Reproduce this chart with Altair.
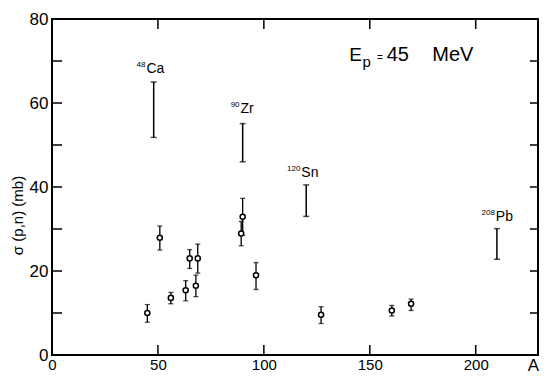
import altair as alt
import pandas as pd

# Open-circle data points (A, sigma, lower, upper)
pt_A = [45.0, 50.9, 56.1, 63.1, 65.0, 67.9, 68.8, 89.3, 90.0, 96.3, 127.0, 160.4, 169.5]
pt_s = [10.0, 27.9, 13.6, 15.4, 23.0, 16.5, 23.0, 28.9, 32.9, 19.0, 9.6, 10.6, 12.2]
pt_lo = [7.8, 25.0, 12.2, 12.9, 20.6, 13.9, 19.5, 26.0, 28.5, 15.6, 7.5, 9.3, 10.6]
pt_hi = [12.0, 30.7, 14.9, 17.7, 25.1, 19.0, 26.4, 31.8, 37.3, 22.0, 11.5, 11.8, 13.3]

# Labelled nuclei (error bars only)
nuc_A = [48, 90, 120, 210]
nuc_lo = [51.8, 46.0, 33.0, 22.8]
nuc_hi = [65.0, 55.1, 40.5, 30.1]
nuc_mass = ["48", "90", "120", "208"]
nuc_name = ["Ca", "Zr", "Sn", "Pb"]
nuc_lab_A = [44.6, 89.0, 117.7, 209.5]
nuc_lab_s = [67.1, 57.6, 42.4, 31.8]

# Axis ticks
x_labels = [0, 50, 100, 150, 200]
y_labels = [0, 20, 40, 60, 80]
x_ticks = [50, 100, 150, 200]
y_ticks = [10, 20, 30, 40, 50, 60, 70]

FONT = "Liberation Sans"
W, H = 486, 336

pts = pd.DataFrame({"A": pt_A, "s": pt_s, "lo": pt_lo, "hi": pt_hi})
nuc = pd.DataFrame({"A": nuc_A, "lo": nuc_lo, "hi": nuc_hi})
labs = pd.DataFrame({"A": nuc_lab_A, "s": nuc_lab_s, "mass": nuc_mass, "name": nuc_name})
xt = pd.DataFrame({"A": x_ticks})
yt = pd.DataFrame({"s": y_ticks})

xscale = alt.Scale(domain=[0, 229.4], nice=False, zero=False)
yscale = alt.Scale(domain=[0, 80], nice=False, zero=False)
xaxis = alt.Axis(values=x_labels, ticks=False, tickSize=0, domain=False, grid=False,
                 labelFontSize=15, labelFont=FONT, labelColor="black", labelPadding=2,
                 labelFlush=False, title="A", titleX=481, titleY=15, titleAlign="center",
                 titleBaseline="alphabetic", titleFontSize=17, titleFont=FONT,
                 titleFontWeight="normal", titleColor="black")
yaxis = alt.Axis(values=y_labels, ticks=False, tickSize=0, domain=False, grid=False,
                 labelFontSize=17, labelFont=FONT, labelColor="black", labelPadding=4,
                 title="σ (p,n) (mb)", titleX=-35, titleY=196, titleAngle=270,
                 titleAlign="center", titleBaseline="middle", titleFontSize=15,
                 titleFont=FONT, titleFontWeight="normal", titleColor="black")


def X(f="A"):
    return alt.X(f"{f}:Q", scale=xscale, axis=xaxis)


def Y(f="s"):
    return alt.Y(f"{f}:Q", scale=yscale, axis=yaxis)


layers = []
# inward ticks
layers.append(alt.Chart(yt).mark_rule(color="black", strokeWidth=1.5).encode(
    y=Y("s"), x=alt.value(0), x2=alt.value(10)))
layers.append(alt.Chart(yt).mark_rule(color="black", strokeWidth=1.5).encode(
    y=Y("s"), x=alt.value(W - 8), x2=alt.value(W)))
layers.append(alt.Chart(xt).mark_rule(color="black", strokeWidth=1.5).encode(
    x=X("A"), y=alt.value(H), y2=alt.value(H - 10)))
layers.append(alt.Chart(xt).mark_rule(color="black", strokeWidth=1.5).encode(
    x=X("A"), y=alt.value(0), y2=alt.value(10)))

# labelled nuclei error bars
layers.append(alt.Chart(nuc).mark_rule(color="black", strokeWidth=1.5).encode(
    x=X(), y=Y("lo"), y2="hi"))
for f in ["lo", "hi"]:
    layers.append(alt.Chart(nuc).mark_tick(color="black", orient="horizontal",
                                           size=6, thickness=1.5).encode(x=X(), y=Y(f)))

# data points error bars
layers.append(alt.Chart(pts).mark_rule(color="black", strokeWidth=1.3).encode(
    x=X(), y=Y("lo"), y2="hi"))
for f in ["lo", "hi"]:
    layers.append(alt.Chart(pts).mark_tick(color="black", orient="horizontal",
                                           size=5, thickness=1.3).encode(x=X(), y=Y(f)))
layers.append(alt.Chart(pts).mark_point(shape="circle", filled=True, fill="white",
                                        stroke="black", strokeWidth=1.5, size=26,
                                        opacity=1).encode(x=X(), y=Y("s")))

# nucleus labels
layers.append(alt.Chart(labs).mark_text(align="left", baseline="alphabetic", font=FONT,
                                        fontSize=14, color="black").encode(
    x=X(), y=Y("s"), text="name:N"))
layers.append(alt.Chart(labs).mark_text(align="right", baseline="alphabetic", font=FONT,
                                        fontSize=8, color="black", dx=-1, dy=-6).encode(
    x=X(), y=Y("s"), text="mass:N"))

# E_p = 45 MeV
ep_parts = [("E", 140.3, 69.9, 19), ("p", 146.6, 68.6, 15), ("=", 153.4, 70.1, 10),
            ("45", 158.0, 69.9, 20), ("MeV", 179.5, 69.9, 20)]
for txt, a, s, fs in ep_parts:
    layers.append(alt.Chart().mark_text(align="left", baseline="alphabetic", font=FONT,
                                        fontSize=fs, color="black").encode(
        x=alt.datum(a, scale=xscale, axis=xaxis), y=alt.datum(s, scale=yscale, axis=yaxis),
        text=alt.value(txt)))

chart = alt.layer(*layers).properties(
    width=W, height=H, autosize="none",
    padding={"left": 44, "top": 11, "right": 2, "bottom": 18},
    background="white",
).configure_view(stroke="black", strokeWidth=2)

chart.save("out.html", embed_options={"renderer": "svg", "actions": False})
